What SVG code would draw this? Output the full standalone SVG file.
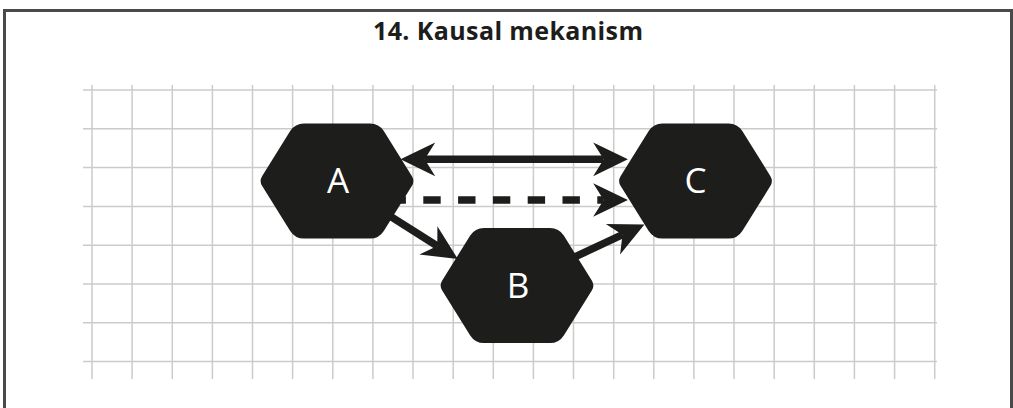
<svg xmlns="http://www.w3.org/2000/svg" xmlns:xlink="http://www.w3.org/1999/xlink" width="1013" height="408" viewBox="0 0 1013 408">
<style>
.grid line{stroke:#cbcbcb;stroke-width:1.5}
.conn{stroke:#1d1d1b;stroke-width:7.5;fill:none}
.hex{fill:#1d1d1b}
.lbl{font-family:"Open Sans","Liberation Sans",sans-serif;font-size:35px;fill:#ffffff;text-anchor:middle}
.title{font-family:"Open Sans","Liberation Sans",sans-serif;font-size:25px;font-weight:700;fill:#1d1d1b;text-anchor:middle}
</style>
<defs>
<path id="hexshape" d="M -74.8,5.1 Q -78,0 -74.8,-5.1 L -46.8,-49.9 Q -42,-57.5 -33,-57.5 L 33,-57.5 Q 42,-57.5 46.8,-49.9 L 74.8,-5.1 Q 78,0 74.8,5.1 L 46.8,49.9 Q 42,57.5 33,57.5 L -33,57.5 Q -42,57.5 -46.8,49.9 Z"/>
<marker id="arr" markerUnits="userSpaceOnUse" markerWidth="40" markerHeight="40" viewBox="-12 -18 38 36" refX="0" refY="0" orient="auto-start-reverse" overflow="visible">
<path d="M23,0 L-10,-16 L0,0 L-10,16 Z" fill="#1d1d1b"/>
</marker>
</defs>
<rect x="0" y="0" width="1013" height="408" fill="#ffffff"/>
<rect x="4.5" y="10.5" width="1007" height="420" fill="none" stroke="#4a4a4a" stroke-width="3"/>
<text class="title" x="508" y="39.5" textLength="270" lengthAdjust="spacing">14. Kausal mekanism</text>
<g class="grid">
<line x1="83" y1="90" x2="937" y2="90"/>
<line x1="83" y1="128.8" x2="937" y2="128.8"/>
<line x1="83" y1="167.6" x2="937" y2="167.6"/>
<line x1="83" y1="206.4" x2="937" y2="206.4"/>
<line x1="83" y1="245.2" x2="937" y2="245.2"/>
<line x1="83" y1="284" x2="937" y2="284"/>
<line x1="83" y1="322.8" x2="937" y2="322.8"/>
<line x1="83" y1="361.6" x2="937" y2="361.6"/>
<line x1="92" y1="85" x2="92" y2="379"/>
<line x1="132.1" y1="85" x2="132.1" y2="379"/>
<line x1="172.3" y1="85" x2="172.3" y2="379"/>
<line x1="212.4" y1="85" x2="212.4" y2="379"/>
<line x1="252.5" y1="85" x2="252.5" y2="379"/>
<line x1="292.6" y1="85" x2="292.6" y2="379"/>
<line x1="332.8" y1="85" x2="332.8" y2="379"/>
<line x1="372.9" y1="85" x2="372.9" y2="379"/>
<line x1="413" y1="85" x2="413" y2="379"/>
<line x1="453.2" y1="85" x2="453.2" y2="379"/>
<line x1="493.3" y1="85" x2="493.3" y2="379"/>
<line x1="533.4" y1="85" x2="533.4" y2="379"/>
<line x1="573.5" y1="85" x2="573.5" y2="379"/>
<line x1="613.7" y1="85" x2="613.7" y2="379"/>
<line x1="653.8" y1="85" x2="653.8" y2="379"/>
<line x1="693.9" y1="85" x2="693.9" y2="379"/>
<line x1="734" y1="85" x2="734" y2="379"/>
<line x1="774.2" y1="85" x2="774.2" y2="379"/>
<line x1="814.3" y1="85" x2="814.3" y2="379"/>
<line x1="854.4" y1="85" x2="854.4" y2="379"/>
<line x1="894.6" y1="85" x2="894.6" y2="379"/>
<line x1="934.7" y1="85" x2="934.7" y2="379"/>
</g>
<g id="connectors">
<line class="conn" x1="424.7" y1="159.3" x2="603.7" y2="159.3" marker-start="url(#arr)" marker-end="url(#arr)"/>
<line class="conn" x1="388.5" y1="200" x2="603.7" y2="200" stroke-dasharray="17.4 17.4" stroke-width="8" marker-end="url(#arr)"/>
<line class="conn" x1="380.6" y1="210.2" x2="437.3" y2="246" marker-end="url(#arr)"/>
<line class="conn" x1="561.8" y1="263" x2="622.5" y2="234.7" marker-end="url(#arr)"/>
</g>
<g id="node-A">
<use xlink:href="#hexshape" class="hex" x="337" y="181"/>
<text class="lbl" x="338" y="192.5">A</text>
</g>
<g id="node-B">
<use xlink:href="#hexshape" class="hex" x="517" y="285.5"/>
<text class="lbl" x="518" y="297.5">B</text>
</g>
<g id="node-C">
<use xlink:href="#hexshape" class="hex" x="695.5" y="181"/>
<text class="lbl" x="695.5" y="192.7">C</text>
</g>
</svg>
